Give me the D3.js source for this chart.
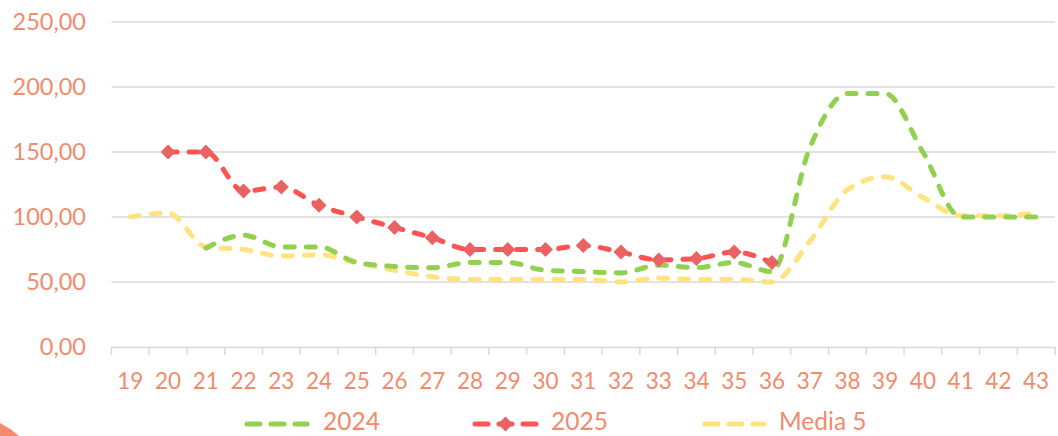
<!DOCTYPE html>
<meta charset="utf-8">
<style>
body { margin: 0; background: #fff; }
text { font-family: Lato, "Open Sans", sans-serif; fill: #F28A6C; }
</style>
<script src="https://cdn.jsdelivr.net/npm/d3@7"></script>
<div id="chart"></div>
<script>
// week numbers on the x axis
var weeks = [19,20,21,22,23,24,25,26,27,28,29,30,31,32,33,34,35,36,37,38,39,40,41,42,43];

var serie2024 = [null,null,76,86,77,77,65,62,61,65,65,59,58,57,63,61,65,58,153,195,195,150,100,100,100];
var serie2025 = [null,150,150,120,123,109,100,92,84,75,75,75,78,73,67,68,73,65,null,null,null,null,null,null,null];
var media5 = [100,103,77,75,70,71,65,59,54,52,52,52,52,50,53,52,52,50,81,121,131,115,101,101,103];

var yTicks = [0,50,100,150,200,250];

var width = 1058, height = 436;
var margin = {top: 22, right: 3, bottom: 89, left: 111.5};

var svg = d3.select("#chart").append("svg")
    .attr("width", width)
    .attr("height", height);

var x = d3.scaleBand().domain(weeks).range([margin.left, width - margin.right]);
var y = d3.scaleLinear().domain([0, 250]).range([height - margin.bottom, margin.top]);

// orange corner bit
svg.append("path")
    .attr("d", "M0,423 Q10,428 19,436 L0,436 Z")
    .attr("fill", "#F28A6C");

// gridlines
svg.append("g").selectAll("line")
    .data(yTicks.filter(d => d > 0))
    .enter().append("line")
    .attr("x1", margin.left)
    .attr("x2", width - margin.right)
    .attr("y1", d => y(d))
    .attr("y2", d => y(d))
    .attr("stroke", "#d9d9d9")
    .attr("stroke-width", 1.5);

// y labels
var fmt = d3.format(".2f");
svg.append("g").selectAll("text")
    .data(yTicks)
    .enter().append("text")
    .attr("x", 86)
    .attr("y", d => y(d) + 8)
    .attr("text-anchor", "end")
    .style("font-size", "23.5px")
    .text(d => fmt(d).replace(".", ","));

// x axis
var xAxis = d3.axisBottom(x).tickSize(0).tickPadding(0);
var gx = svg.append("g")
    .attr("transform", "translate(0," + y(0) + ")")
    .call(xAxis);
gx.select(".domain").attr("stroke", "#d9d9d9").attr("stroke-width", 1.5);
gx.selectAll(".tick text").remove();

// tick marks between categories
var bounds = weeks.map(d => x(d)).concat([x(weeks[weeks.length - 1]) + x.bandwidth()]);
gx.append("g").selectAll("line")
    .data(bounds)
    .enter().append("line")
    .attr("x1", d => d).attr("x2", d => d)
    .attr("y1", 0).attr("y2", 8)
    .attr("stroke", "#d9d9d9")
    .attr("stroke-width", 1.5);

svg.append("g").selectAll("text")
    .data(weeks)
    .enter().append("text")
    .attr("x", d => x(d) + x.bandwidth() / 2)
    .attr("y", 389)
    .attr("text-anchor", "middle")
    .style("font-size", "22.5px")
    .text(d => d);

var cx = (d, i) => x(weeks[i]) + x.bandwidth() / 2;

function drawLine(data, color) {
    var line = d3.line()
        .defined(d => d != null)
        .x(cx)
        .y(d => y(d))
        .curve(d3.curveMonotoneX);
    svg.append("path")
        .datum(data)
        .attr("fill", "none")
        .attr("stroke", color)
        .attr("stroke-width", 5)
        .attr("stroke-dasharray", "9,12")
        .attr("stroke-linecap", "round")
        .attr("d", line);
}

var colors = {a: "#92D050", b: "#FF5252", c: "#FFE381"};

drawLine(media5, colors.c);
drawLine(serie2024, colors.a);
drawLine(serie2025, colors.b);

var diamond = "M0,-7.5L7.5,0L0,7.5L-7.5,0Z";

svg.append("g").selectAll("path")
    .data(serie2025.map((d, i) => [d, i]).filter(d => d[0] != null))
    .enter().append("path")
    .attr("d", diamond)
    .attr("transform", d => "translate(" + cx(null, d[1]) + "," + y(d[0]) + ")")
    .attr("fill", "#E96363");

// legend
var legend = [
    {name: "2024", color: colors.a, x1: 247, x2: 307, tx: 323, marker: false},
    {name: "2025", color: colors.b, x1: 475, x2: 536, tx: 551, marker: true},
    {name: "Media 5", color: colors.c, x1: 705, x2: 764, tx: 779, marker: false}
];
var ly = 424;
legend.forEach(function(l) {
    svg.append("line")
        .attr("x1", l.x1).attr("x2", l.x2)
        .attr("y1", ly).attr("y2", ly)
        .attr("stroke", l.color)
        .attr("stroke-width", 5)
        .attr("stroke-linecap", "round")
        .attr("stroke-dasharray", "13,11");
    if (l.marker) {
        svg.append("path")
            .attr("d", diamond)
            .attr("transform", "translate(" + (l.x1 + l.x2) / 2 + "," + ly + ")")
            .attr("fill", "#E96363");
    }
    svg.append("text")
        .attr("x", l.tx)
        .attr("y", 430)
        .style("font-size", "24.5px")
        .text(l.name);
});
</script>
